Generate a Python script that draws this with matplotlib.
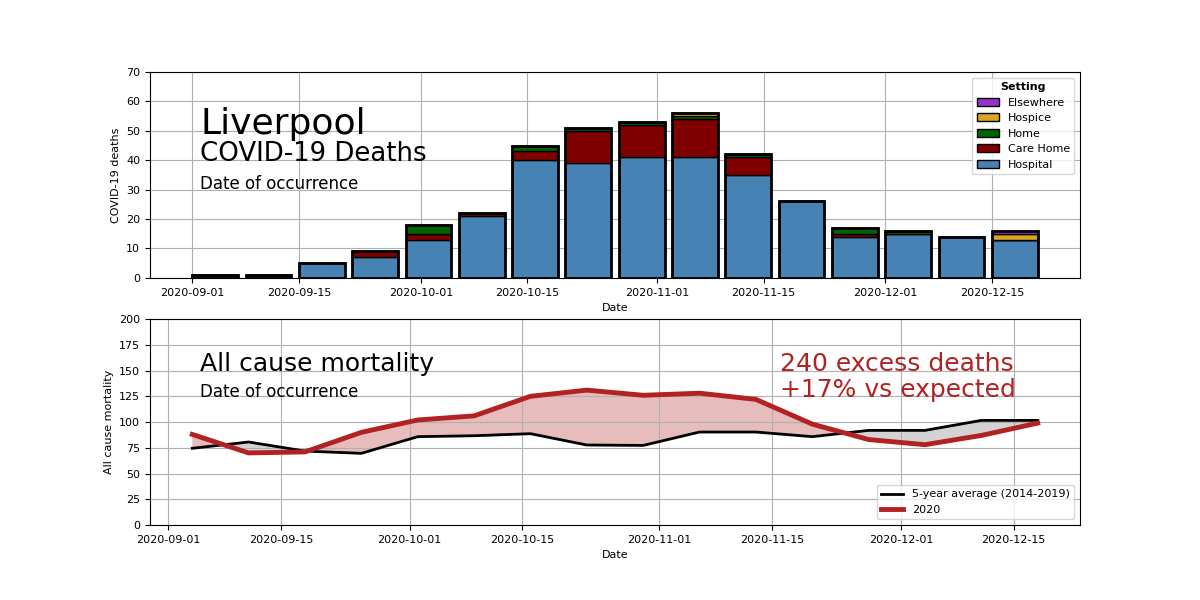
import numpy as np
import pandas as pd
from matplotlib import pyplot as plt
import matplotlib.dates as mdates
from matplotlib.patches import Patch

# weekly data, weeks ending on Fridays
weeks = pd.date_range("2020-09-04", "2020-12-18", freq="7D")

hospital = [1, 1, 5, 7, 13, 21, 40, 39, 41, 41, 35, 26, 14, 15, 14, 13]
care_home = [0, 0, 0, 2, 2, 1, 3, 11, 11, 13, 6, 0, 1, 0, 0, 0]
home = [0, 0, 0, 0, 3, 0, 2, 1, 1, 1, 1, 0, 2, 1, 0, 0]
hospice = [0, 0, 0, 0, 0, 0, 0, 0, 0, 1, 0, 0, 0, 0, 0, 2]
elsewhere = [0, 0, 0, 0, 0, 0, 0, 0, 0, 0, 0, 0, 0, 0, 0, 1]

avg_5yr = [74.5, 80.6, 71.8, 69.6, 85.8, 86.7, 88.7, 77.7,
           77.3, 90.3, 90.3, 85.8, 91.9, 91.9, 101.6, 101.6]
deaths_2020 = [88, 70, 71, 90, 102, 106, 125, 131,
               126, 128, 122, 98, 83, 78, 87, 99]

settings = ["Hospital", "Care Home", "Home", "Hospice", "Elsewhere"]
colours = ["steelblue", "maroon", "darkgreen", "goldenrod", "darkorchid"]

plt.rcParams["font.size"] = 8

fig, (ax1, ax2) = plt.subplots(2, 1, figsize=(12, 6), dpi=100)
fig.subplots_adjust(left=0.125, right=0.9, top=0.88, bottom=0.125, hspace=0.2)

# --- top: covid deaths by setting
bottom = np.zeros(len(weeks))
for vals, col in zip([hospital, care_home, home, hospice, elsewhere], colours):
    vals = np.array(vals)
    ax1.bar(weeks, vals, width=6, bottom=bottom, color=col,
            edgecolor="black", linewidth=1)
    bottom += vals
ax1.bar(weeks, bottom, width=6, fill=False, edgecolor="black", linewidth=2)

ax1.set_ylim(0, 70)
ax1.set_ylabel("COVID-19 deaths")
ax1.set_xlabel("Date")
ax1.grid(True)
ax1.set_axisbelow(True)

handles = [Patch(facecolor=c, edgecolor="black", label=s)
           for s, c in zip(settings, colours)][::-1]
leg = ax1.legend(handles=handles, title="Setting", loc="upper right")
leg.get_title().set_fontweight("bold")

ax1.text(0.054, 0.70, "Liverpool", transform=ax1.transAxes, fontsize=26)
ax1.text(0.054, 0.57, "COVID-19 Deaths", transform=ax1.transAxes, fontsize=18.7)
ax1.text(0.054, 0.43, "Date of occurrence", transform=ax1.transAxes, fontsize=12)

# --- bottom: all cause mortality vs 5 year average
a = np.array(avg_5yr)
d = np.array(deaths_2020)
ax2.plot(weeks, a, color="black", linewidth=2, label="5-year average (2014-2019)")
ax2.plot(weeks, d, color="firebrick", linewidth=3.5, label="2020")
ax2.fill_between(weeks, a, d, where=d >= a, interpolate=True,
                 color="firebrick", alpha=0.3, linewidth=0)
ax2.fill_between(weeks, a, d, where=d < a, interpolate=True,
                 color="lightgrey", linewidth=0)

ax2.set_ylim(0, 200)
ax2.set_yticks(np.arange(0, 201, 25))
ax2.set_ylabel("All cause mortality")
ax2.set_xlabel("Date")
ax2.grid(True)
ax2.legend(loc="lower right")

ax2.text(0.054, 0.75, "All cause mortality", transform=ax2.transAxes, fontsize=18)
ax2.text(0.054, 0.62, "Date of occurrence", transform=ax2.transAxes, fontsize=12)
ax2.text(0.677, 0.75, "240 excess deaths", transform=ax2.transAxes,
         fontsize=18, color="firebrick")
ax2.text(0.677, 0.62, "+17% vs expected", transform=ax2.transAxes,
         fontsize=18, color="firebrick")

for ax in (ax1, ax2):
    ax.xaxis.set_major_locator(mdates.DayLocator(bymonthday=[1, 15]))
    ax.xaxis.set_major_formatter(mdates.DateFormatter("%Y-%m-%d"))

fig.savefig("out.png")
